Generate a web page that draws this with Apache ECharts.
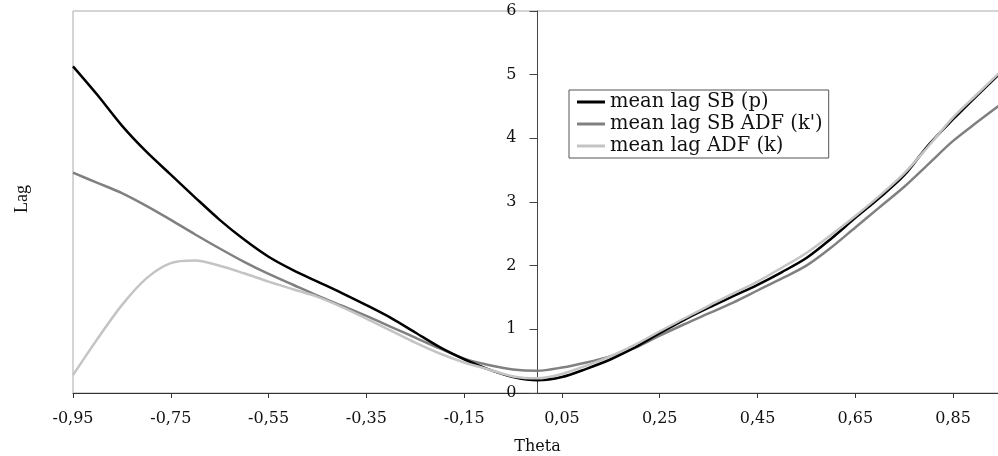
<!DOCTYPE html>
<html>
<head>
<meta charset="utf-8">
<script src="https://cdn.jsdelivr.net/npm/echarts@6/dist/echarts.min.js"></script>
<style>
html,body{margin:0;padding:0;background:#fff;}
#c{width:998px;height:456px;}
</style>
</head>
<body>
<div id="c"></div>
<script>
var theta = [-0.95,-0.90,-0.85,-0.80,-0.75,-0.70,-0.65,-0.60,-0.55,-0.50,-0.45,-0.40,-0.35,-0.30,-0.25,-0.20,-0.15,-0.10,-0.05,0.00,0.05,0.10,0.15,0.20,0.25,0.30,0.35,0.40,0.45,0.50,0.55,0.60,0.65,0.70,0.75,0.80,0.85,0.90,0.95];
var lagSB = [5.13,4.68,4.20,3.79,3.43,3.07,2.72,2.41,2.14,1.93,1.75,1.57,1.38,1.18,0.95,0.72,0.53,0.37,0.25,0.20,0.25,0.38,0.53,0.72,0.94,1.15,1.34,1.52,1.70,1.90,2.12,2.42,2.75,3.07,3.42,3.90,4.30,4.68,5.05];
var lagSBADF = [3.46,3.30,3.14,2.94,2.72,2.49,2.27,2.06,1.87,1.70,1.53,1.37,1.21,1.04,0.87,0.70,0.54,0.44,0.37,0.35,0.40,0.48,0.58,0.71,0.90,1.08,1.25,1.42,1.61,1.80,2.00,2.28,2.60,2.92,3.24,3.60,3.96,4.26,4.55];
var lagADF = [0.28,0.85,1.38,1.80,2.04,2.08,2.00,1.88,1.75,1.63,1.51,1.35,1.17,0.98,0.79,0.62,0.48,0.37,0.26,0.23,0.30,0.43,0.58,0.76,0.97,1.17,1.37,1.56,1.75,1.97,2.20,2.48,2.78,3.10,3.45,3.88,4.33,4.70,5.07];
var xTicks = [-0.95,-0.75,-0.55,-0.35,-0.15,0.05,0.25,0.45,0.65,0.85];
var seriesNames = ['mean lag SB (p)', "mean lag SB ADF (k')", 'mean lag ADF (k)'];

function pairs(ys){ return theta.map(function(t,i){ return [t, ys[i]]; }); }

var GRID_LEFT = 73, GRID_RIGHT = -4, X_MIN = -0.95, X_MAX = 0.95;
var gridW = 998 - GRID_LEFT - GRID_RIGHT;
var yOffset = -gridW * (0 - X_MIN) / (X_MAX - X_MIN);

var chart = echarts.init(document.getElementById('c'), null, {renderer:'canvas'});
var serif = '"DejaVu Serif", "Liberation Serif", serif';
chart.setOption({
  animation:false,
  backgroundColor:'#fff',
  grid:{left:GRID_LEFT, right:GRID_RIGHT, top:11, bottom:63, show:true, borderColor:'#aaa', borderWidth:1,
        backgroundColor:'transparent', containLabel:false, outerBoundsMode:'none'},
  xAxis:{
    type:'value', min:X_MIN, max:X_MAX,
    name:'Theta', nameLocation:'middle', nameGap:46,
    nameTextStyle:{fontFamily:serif, fontSize:16, color:'#111'},
    axisLine:{show:true, onZero:true, lineStyle:{color:'#333', width:1}},
    axisTick:{show:true, length:5, inside:false, customValues:xTicks, lineStyle:{color:'#333'}},
    axisLabel:{customValues:xTicks, margin:18, fontFamily:serif, fontSize:16, color:'#111',
      formatter:function(v){ return v.toFixed(2).replace('.', ','); }},
    splitLine:{show:false}
  },
  yAxis:{
    type:'value', min:0, max:6, interval:1, position:'left', offset:yOffset,
    axisLine:{show:true, onZero:false, lineStyle:{color:'#444', width:1}},
    axisTick:{show:true, length:8, inside:false, lineStyle:{color:'#444'}},
    axisLabel:{margin:21, fontFamily:serif, fontSize:16, color:'#111'},
    splitLine:{show:false}
  },
  legend:{
    orient:'vertical', left:569, top:90,
    data:seriesNames,
    backgroundColor:'#fff', borderColor:'#555', borderWidth:1,
    padding:[2,6,2,8], itemGap:2, itemWidth:28, itemHeight:3, icon:'rect',
    textStyle:{fontFamily:serif, fontSize:19.5, color:'#111', lineHeight:17.5}
  },
  graphic:[{
    type:'text', left:13, top:185, rotation:Math.PI/2,
    style:{text:'Lag', font:'18px "Liberation Serif", serif', fill:'#111'}
  }],
  series:[
    {name:seriesNames[0], type:'line', data:pairs(lagSB), showSymbol:false, smooth:0.3,
     lineStyle:{color:'#000', width:2.5}, itemStyle:{color:'#000'}, z:3},
    {name:seriesNames[1], type:'line', data:pairs(lagSBADF), showSymbol:false, smooth:0.3,
     lineStyle:{color:'#808080', width:2.5}, itemStyle:{color:'#808080'}, z:2},
    {name:seriesNames[2], type:'line', data:pairs(lagADF), showSymbol:false, smooth:0.3,
     lineStyle:{color:'#c4c4c4', width:2.5}, itemStyle:{color:'#c4c4c4'}, z:4}
  ]
});
</script>
</body>
</html>
